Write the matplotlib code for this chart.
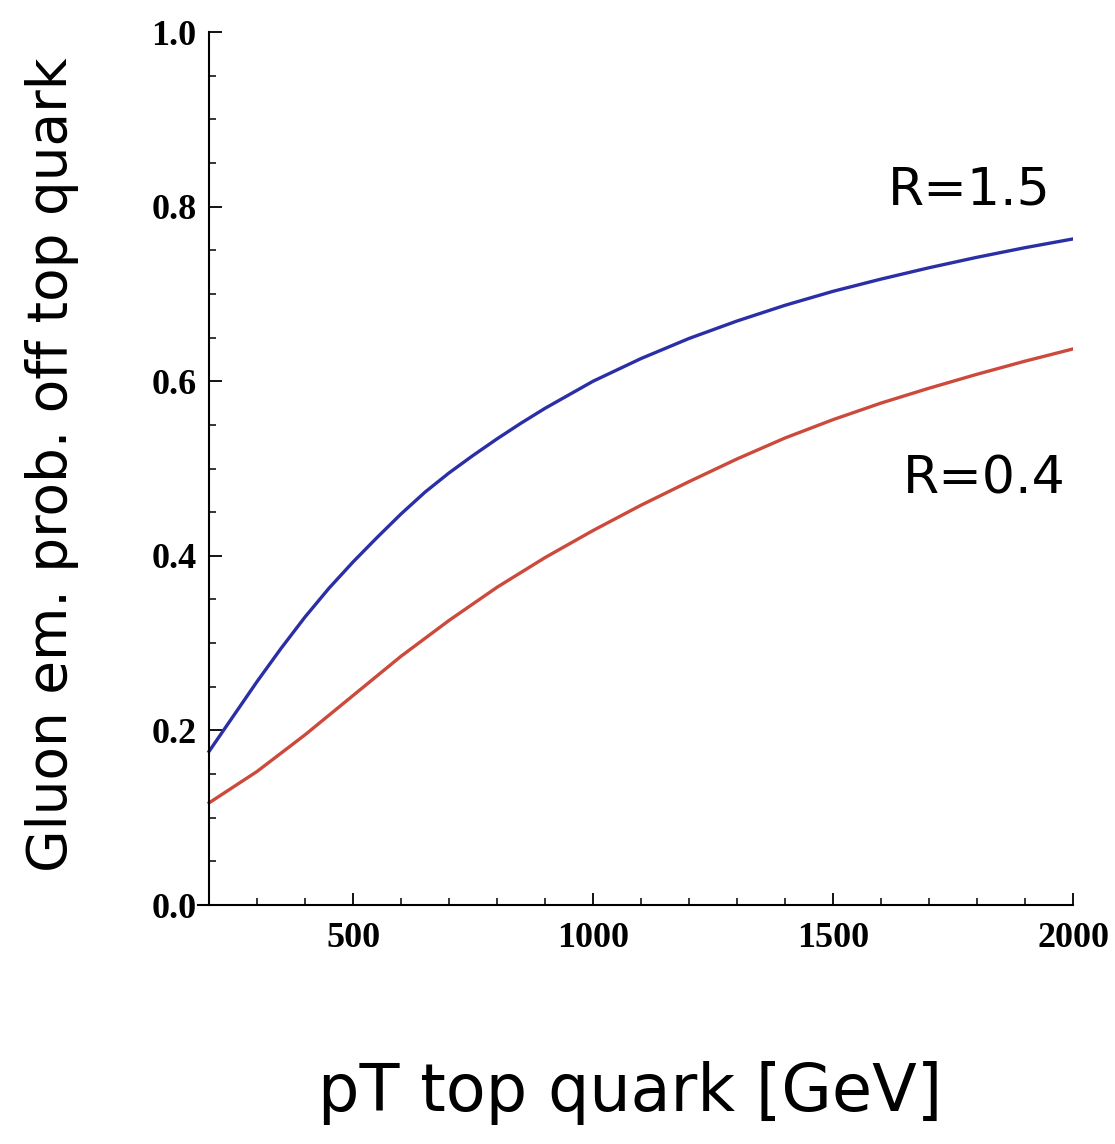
import matplotlib
matplotlib.use('Agg')
import matplotlib.pyplot as plt
from matplotlib.ticker import MultipleLocator

# gluon emission probability off the top quark vs top pT
pt_r15 = [200, 250, 300, 350, 400, 450, 500, 550, 600, 650, 700, 750, 800, 850, 900,
          1000, 1100, 1200, 1300, 1400, 1500, 1600, 1700, 1800, 1900, 2000]
prob_r15 = [0.176, 0.216, 0.256, 0.294, 0.330, 0.363, 0.393, 0.421, 0.448, 0.473, 0.495,
            0.515, 0.534, 0.552, 0.569,
            0.600, 0.626, 0.649, 0.669, 0.687, 0.703, 0.717, 0.730, 0.742, 0.753, 0.763]

pt_r04 = [200, 300, 400, 500, 600, 700, 800, 900, 1000, 1100,
          1200, 1300, 1400, 1500, 1600, 1700, 1800, 1900, 2000]
prob_r04 = [0.117, 0.153, 0.195, 0.240, 0.285, 0.326, 0.364, 0.398, 0.429, 0.458,
            0.485, 0.511, 0.535, 0.556, 0.575, 0.592, 0.608, 0.623, 0.637]

label_r15 = 'R=1.5'
label_r04 = 'R=0.4'
xticks = [500, 1000, 1500, 2000]
yticks = [0.0, 0.2, 0.4, 0.6, 0.8, 1.0]

fig = plt.figure(figsize=(11.15, 11.44), dpi=100)
ax = fig.add_axes([0.1776, 0.2089, 0.7848, 0.7631])

ax.plot(pt_r15, prob_r15, color='#2b2fa6', lw=2.4, solid_joinstyle='round')
ax.plot(pt_r04, prob_r04, color='#cc4a3c', lw=2.4, solid_joinstyle='round')

ax.set_xlim(177, 2000)
ax.set_ylim(0, 1.0)

# mathematica style axes: y axis sits at pT=200, x axis pokes out a bit to the left
ax.spines['right'].set_visible(False)
ax.spines['top'].set_visible(False)
ax.spines['left'].set_position(('data', 200))
for s in ('left', 'bottom'):
    ax.spines[s].set_linewidth(1.5)

ax.set_xticks(xticks)
ax.set_yticks(yticks)
ax.set_yticklabels([f'{v:.1f}' for v in yticks])
ax.xaxis.set_minor_locator(MultipleLocator(100))
ax.yaxis.set_minor_locator(MultipleLocator(0.05))
ax.tick_params(which='major', direction='in', length=9, width=1.3)
ax.tick_params(which='minor', direction='in', length=5, width=1.1)
ax.tick_params(axis='x', which='major', pad=12)
ax.tick_params(axis='y', which='major', pad=9)

for lab in ax.get_xticklabels() + ax.get_yticklabels():
    lab.set_family('Liberation Serif')
    lab.set_weight('bold')
    lab.set_fontsize(26)

ax.text(1783, 0.819, label_r15, ha='center', va='center', fontsize=37.5, family='DejaVu Sans')
ax.text(1814, 0.487, label_r04, ha='center', va='center', fontsize=37.5, family='DejaVu Sans')

fig.text(0.0466, 0.5935, 'Gluon em. prob. off top quark', rotation=90,
         ha='center', va='center', fontsize=39.5, family='DejaVu Sans')
fig.text(0.565, 0.0446, 'pT top quark [GeV]', ha='center', va='center',
         fontsize=47, family='DejaVu Sans')

plt.savefig('out.png')
